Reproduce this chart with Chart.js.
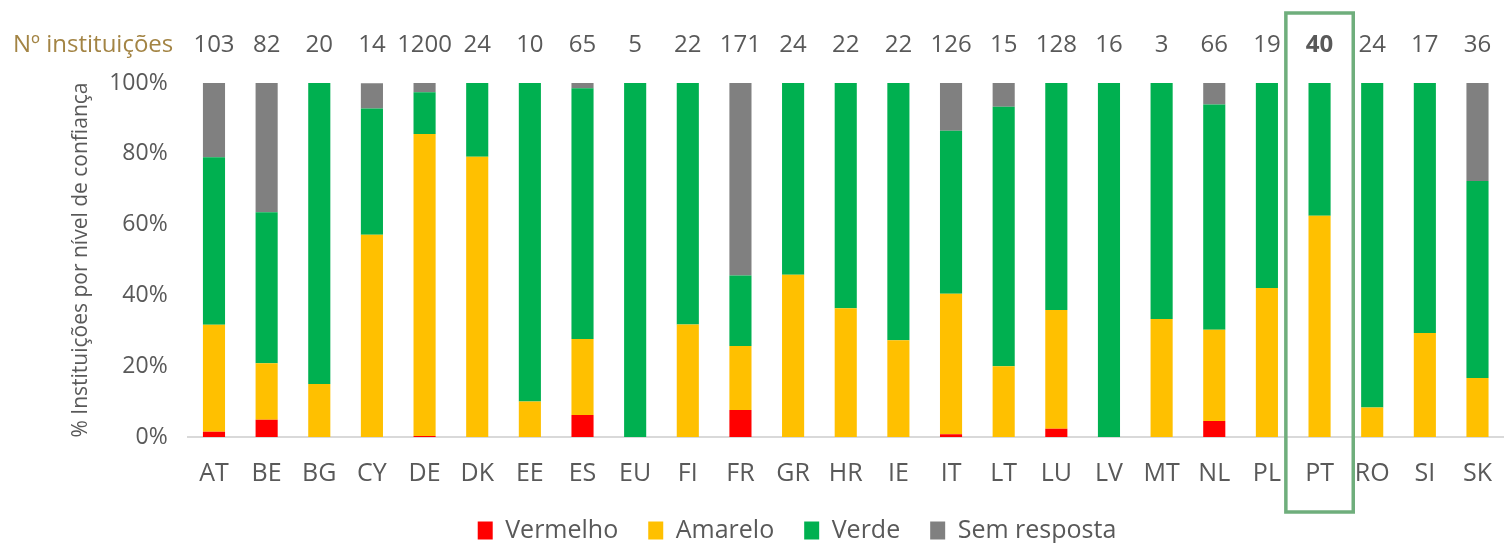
<!DOCTYPE html>
<html>
<head>
<meta charset="utf-8">
<script src="https://cdn.jsdelivr.net/npm/chart.js@4"></script>
<style>
  html, body { margin: 0; padding: 0; background: #fff; }
  #wrap { width: 1506px; height: 543px; position: relative; }
</style>
</head>
<body>
<div id="wrap"><canvas id="myChart"></canvas></div>
<script>
var paises = ['AT','BE','BG','CY','DE','DK','EE','ES','EU','FI','FR','GR','HR','IE','IT','LT','LU','LV','MT','NL','PL','PT','RO','SI','SK'];
var nInstituicoes = [103,82,20,14,1200,24,10,65,5,22,171,24,22,22,126,15,128,16,3,66,19,40,24,17,36];
var vermelho    = [1.5,4.9,0,0,0.3,0,0,6.2,0,0,7.6,0,0,0,0.8,0,2.3,0,0,4.5,0,0,0,0,0];
var amarelo     = [30.2,15.9,15,57.1,85.3,79.2,10,21.5,0,31.8,18.1,45.8,36.4,27.3,39.7,20,33.6,0,33.3,25.8,42.1,62.5,8.3,29.4,16.7];
var verde       = [47.3,42.7,85,35.7,11.8,20.8,90,70.8,100,68.2,19.9,54.2,63.6,72.7,46.0,73.3,64.1,100,66.7,63.6,57.9,37.5,91.7,70.6,55.6];
var semResposta = [21.0,36.6,0,7.1,2.6,0,0,1.5,0,0,54.4,0,0,0,13.5,6.7,0,0,0,6.1,0,0,0,0,27.8];
var destaque = 'PT';

var cinza = '#595959';
var fonte = "'Open Sans', sans-serif";

// numero de instituicoes por cima das barras + caixa do PT
var topoPlugin = {
  id: 'topo',
  afterDraw: function(chart) {
    var ctx = chart.ctx;
    var x = chart.scales.x;
    ctx.save();
    ctx.textBaseline = 'middle';
    ctx.font = '24px ' + fonte;
    ctx.fillStyle = '#A38444';
    ctx.textAlign = 'left';
    ctx.fillText('Nº instituições', 13, 45);
    ctx.textAlign = 'center';
    for (var i = 0; i < paises.length; i++) {
      ctx.font = (paises[i] === destaque ? 'bold ' : '') + '24px ' + fonte;
      ctx.fillStyle = cinza;
      ctx.fillText(String(nInstituicoes[i]), x.getPixelForValue(i), 45);
    }
    var k = paises.indexOf(destaque);
    var cw = x.getPixelForValue(1) - x.getPixelForValue(0);
    var cx = x.getPixelForValue(k);
    ctx.strokeStyle = '#6FAE7C';
    ctx.lineWidth = 3.5;
    ctx.strokeRect(cx - cw * 0.64, 13, cw * 1.28, 499);
    ctx.restore();
  }
};

new Chart('myChart', {
  type: 'bar',
  data: {
    labels: paises,
    datasets: [
      { label: 'Vermelho', data: vermelho, backgroundColor: '#FF0000' },
      { label: 'Amarelo', data: amarelo, backgroundColor: '#FFC000' },
      { label: 'Verde', data: verde, backgroundColor: '#00B050' },
      { label: 'Sem resposta', data: semResposta, backgroundColor: '#808080' }
    ]
  },
  options: {
    responsive: true,
    maintainAspectRatio: false,
    animation: false,
    datasets: { bar: { barPercentage: 0.84, categoryPercentage: 0.5 } },
    layout: { padding: { top: 83, right: -20, left: 68, bottom: -10 } },
    plugins: {
      legend: {
        position: 'bottom',
        labels: {
          boxWidth: 15, boxHeight: 18, padding: 30,
          color: cinza,
          font: { size: 25, family: fonte }
        }
      },
      tooltip: { enabled: false }
    },
    scales: {
      x: {
        stacked: true,
        grid: { display: false },
        border: { color: '#D9D9D9', width: 2 },
        ticks: { color: cinza, padding: 14, font: { size: 25, family: fonte } },
        afterFit: function(scale) { scale.height -= 15; }
      },
      y: {
        stacked: true,
        min: 0, max: 100,
        grid: { display: false },
        border: { display: false },
        ticks: {
          stepSize: 20, color: cinza, padding: 12,
          font: { size: 23, family: fonte },
          callback: function(v) { return v + '%'; }
        },
        title: {
          display: true,
          text: '% Instituições por nível de confiança',
          color: cinza,
          padding: { top: 0, bottom: 4 },
          font: { size: 21, family: fonte }
        }
      }
    }
  },
  plugins: [topoPlugin]
});
</script>
</body>
</html>
